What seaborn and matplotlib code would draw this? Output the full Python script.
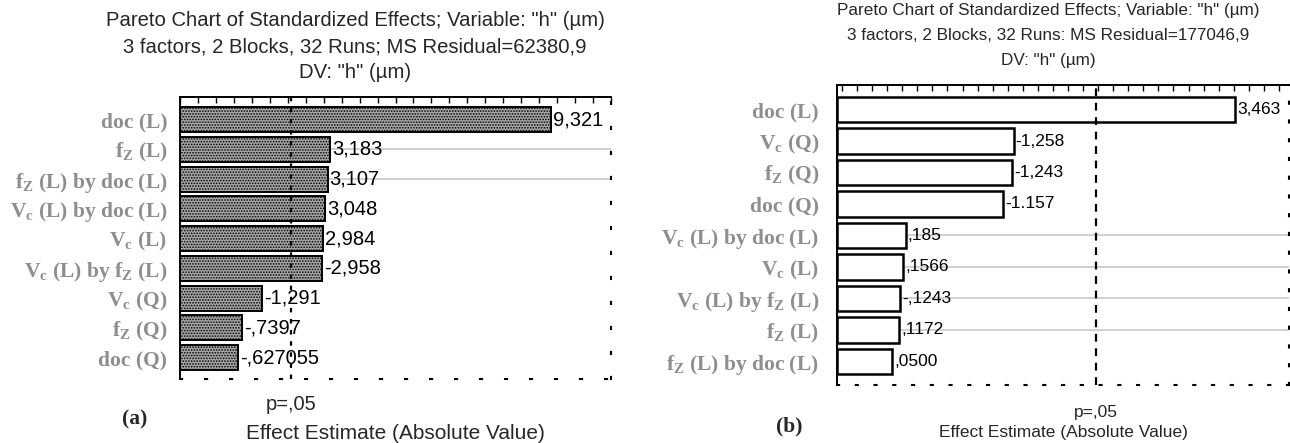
import numpy as np
import pandas as pd
import seaborn as sns
import matplotlib.pyplot as plt
import matplotlib.transforms as mtransforms
from matplotlib.ticker import MultipleLocator

sns.set_style("white")
plt.rcParams["font.family"] = ["Liberation Sans", "DejaVu Sans"]
plt.rcParams["mathtext.fontset"] = "custom"
plt.rcParams["mathtext.rm"] = "Liberation Serif:bold"
plt.rcParams["mathtext.it"] = "Liberation Serif:bold"
plt.rcParams["mathtext.bf"] = "Liberation Serif:bold"
plt.rcParams["hatch.linewidth"] = 0.8

# ---- panel (a) ----
effects_a = ["doc (L)", r"f$_\mathrm{Z}$ (L)", r"f$_\mathrm{Z}$ (L) by doc (L)",
             r"V$_\mathrm{c}$ (L) by doc (L)", r"V$_\mathrm{c}$ (L)",
             r"V$_\mathrm{c}$ (L) by f$_\mathrm{Z}$ (L)", r"V$_\mathrm{c}$ (Q)",
             r"f$_\mathrm{Z}$ (Q)", "doc (Q)"]
estimate_a = [9.321, 3.183, 3.107, 3.048, 2.984, -2.958, -1.291, -0.7397, -0.627055]
estimate_text_a = ["9,321", "3,183", "3,107", "3,048", "2,984", "-2,958", "-1,291",
                   "-,7397", "-,627055"]
title_a = ['Pareto Chart of Standardized Effects; Variable: "h" (µm)',
           "3 factors, 2 Blocks, 32 Runs; MS Residual=62380,9",
           'DV: "h" (µm)']
guide_rows_a = [1, 2]

# ---- panel (b) ----
effects_b = ["doc (L)", r"V$_\mathrm{c}$ (Q)", r"f$_\mathrm{Z}$ (Q)", "doc (Q)",
             r"V$_\mathrm{c}$ (L) by doc (L)", r"V$_\mathrm{c}$ (L)",
             r"V$_\mathrm{c}$ (L) by f$_\mathrm{Z}$ (L)", r"f$_\mathrm{Z}$ (L)",
             r"f$_\mathrm{Z}$ (L) by doc (L)"]
estimate_b = [3.463, -1.258, -1.243, -1.157, 0.185, 0.1566, -0.1243, 0.1172, 0.0500]
estimate_text_b = ["3,463", "-1,258", "-1,243", "-1.157", ",185", ",1566", "-,1243",
                   ",1172", ",0500"]
title_b = ['Pareto Chart of Standardized Effects; Variable: "h" (µm)',
           "3 factors, 2 Blocks, 32 Runs: MS Residual=177046,9",
           'DV: "h" (µm)']
guide_rows_b = [4, 5, 6, 7]

p_crit = 2.08  # t(0.025, 21)

W, H = 1290, 443
fig = plt.figure(figsize=(W / 100, H / 100), dpi=100)
ax_a = fig.add_axes([180 / W, 1 - 379 / H, 431 / W, 282 / H])
ax_b = fig.add_axes([837 / W, 1 - 385 / H, 452 / W, 300 / H])


def pareto(ax, effects, est, est_text, guides, xlim, ylim, bar_kw, tick_step,
           dots, txt_size, xlab_size, lab_pad, p_y, xlab_y, p_ls):
    df = pd.DataFrame({"Effect": effects, "Estimate": est})
    df["Abs"] = df["Estimate"].abs()
    sns.barplot(data=df, x="Abs", y="Effect", orient="h", ax=ax,
                saturation=1, edgecolor="black", zorder=1, **bar_kw)
    # STATISTICA draws the bars from the left edge of the axis
    for bar in ax.patches:
        w = bar.get_width()
        bar.set_x(xlim[0])
        bar.set_width(w - xlim[0])
    ax.set_xlim(*xlim)
    ax.set_ylim(*ylim)
    ax.set_xlabel("")
    ax.set_ylabel("")

    ax.hlines(guides, df["Abs"].iloc[guides], xlim[1], color="#c8c8c8", lw=1.2, zorder=0.8)
    ax.axvline(p_crit, color="black", lw=1.6, ls=p_ls, zorder=3)

    for i, (v, t) in enumerate(zip(df["Abs"], est_text)):
        ax.annotate(t, (v, i), xytext=(1.5, 0), textcoords="offset points",
                    ha="left", va="center", fontsize=txt_size, color="black", zorder=4)

    ax.set_yticks(range(len(effects)))
    ax.set_yticklabels(effects, fontfamily="Liberation Serif", fontweight="bold",
                       fontsize=15.5, color="#8e8e8e")
    ax.tick_params(axis="y", direction="in", length=3, width=1, color="black",
                   pad=lab_pad, left=True)
    ax.xaxis.set_ticks_position("top")
    ax.xaxis.set_major_locator(MultipleLocator(tick_step))
    ax.tick_params(axis="x", direction="in", length=4, width=1, color="black",
                   top=True, labeltop=False, labelbottom=False)

    for side in ["top", "left"]:
        ax.spines[side].set_color("black")
        ax.spines[side].set_linewidth(1.4)
    for side in ["bottom", "right"]:
        ax.spines[side].set_color("black")
        ax.spines[side].set_linewidth(1.5)
        ax.spines[side].set_linestyle(dots)

    trans = mtransforms.blended_transform_factory(ax.transData, ax.transAxes)
    ax.text(p_crit, p_y, "p=,05", transform=trans, ha="center", va="center",
            fontsize=txt_size)
    ax.text(0.5, xlab_y, "Effect Estimate (Absolute Value)", transform=ax.transAxes,
            ha="center", va="center", fontsize=xlab_size)


pareto(ax_a, effects_a, estimate_a, estimate_text_a, guide_rows_a,
       xlim=(-1.0, 11.0), ylim=(8.72, -0.76),
       bar_kw=dict(color="#a6a6a6", hatch="......", width=0.84, linewidth=1.4),
       tick_step=0.5, dots=(0, (1, 11)), txt_size=14.5, xlab_size=15, lab_pad=9,
       p_y=-0.089, xlab_y=-0.195, p_ls=(0, (2, 3)))
pareto(ax_b, effects_b, estimate_b, estimate_text_b, guide_rows_b,
       xlim=(-0.5, 4.0), ylim=(8.75, -0.78),
       bar_kw=dict(color="white", width=0.8, linewidth=1.8),
       tick_step=0.15, dots=(0, (1, 8)), txt_size=12.5, xlab_size=12.5, lab_pad=13,
       p_y=-0.09, xlab_y=-0.157, p_ls=(0, (3.5, 3)))

for line, y in zip(title_a, [21, 47, 73]):
    fig.text(355 / W, 1 - y / H, line, ha="center", va="center", fontsize=14.6)
for line, y in zip(title_b, [11, 36, 61]):
    fig.text(1048 / W, 1 - y / H, line, ha="center", va="center", fontsize=12.3)

fig.text(135 / W, 1 - 419 / H, "(a)", ha="center", va="center",
         fontfamily="Liberation Serif", fontweight="bold", fontsize=15.5)
fig.text(789 / W, 1 - 426 / H, "(b)", ha="center", va="center",
         fontfamily="Liberation Serif", fontweight="bold", fontsize=15.5)

fig.savefig("out.png", dpi=100)
